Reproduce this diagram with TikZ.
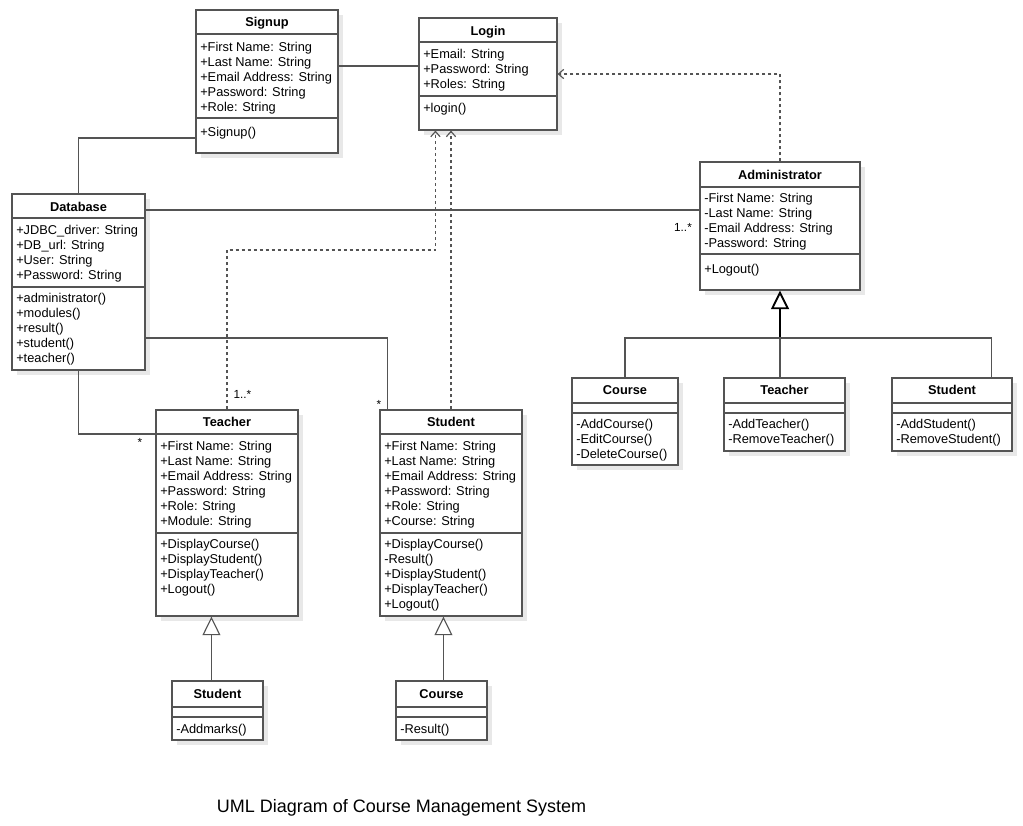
\documentclass[tikz,border=0pt]{standalone}
\usepackage{fontspec}
\setmainfont{Liberation Sans}
\usepackage{tikz}
\usetikzlibrary{arrows.meta, positioning, fit, calc}
\definecolor{umlline}{gray}{0.33}
\definecolor{umlshadow}{gray}{0.91}
\tikzset{
  classbox/.style={draw=umlline, line width=0.85pt, fill=white, inner sep=0pt,
    preaction={draw=none, fill=umlshadow, transform canvas={shift={(4pt,-4pt)}}}},
  classtitle/.style={anchor=base, inner sep=0pt, font=\fontsize{9.6}{11.25}\selectfont\bfseries},
  members/.style={anchor=north west, align=left, inner sep=0pt, font=\fontsize{9.6}{11.25}\selectfont,
    execute at begin node=\strut},
  sepline/.style={draw=umlline, line width=0.85pt},
  assoc/.style={draw=umlline, line width=0.85pt},
  depend/.style={draw=umlline, line width=0.85pt, dash pattern=on 2.25pt off 2.25pt, -{Straight Barb[length=4pt, width=7pt]}},
  inherit/.style={draw=umlline, line width=0.85pt, -{Triangle[open, length=14pt, width=13.5pt, fill=white]}},
  mult/.style={anchor=base, inner sep=0pt, font=\fontsize{8.8}{10}\selectfont},
}
\begin{document}
\begin{tikzpicture}[x=0.75pt, y=-0.75pt]
\fill[white] (0,0) rectangle (1023,825);
\useasboundingbox (0,0) rectangle (1023,825);

% Signup
\node[classbox, fit={(196,10) (338,153)}] (signup) {};
\node[classtitle] at (267,26.5) {Signup};
\draw[sepline] (signup.west |- 0,34) -- (signup.east |- 0,34);
\node[members] at (200,41.5) {+First Name: String\\+Last Name: String\\+Email Address: String\\+Password: String\\+Role: String};
\draw[sepline] (signup.west |- 0,118) -- (signup.east |- 0,118);
\node[members] at (200,125.5) {+Signup()};

% Login
\node[classbox, fit={(419,18) (557,130)}] (login) {};
\node[classtitle] at (488,35.5) {Login};
\draw[sepline] (login.west |- 0,42) -- (login.east |- 0,42);
\node[members] at (423,48.5) {+Email: String\\+Password: String\\+Roles: String};
\draw[sepline] (login.west |- 0,96) -- (login.east |- 0,96);
\node[members] at (423,101.5) {+login()};

% Database
\node[classbox, fit={(12,194) (145,370)}] (database) {};
\node[classtitle] at (78.5,211.5) {Database};
\draw[sepline] (database.west |- 0,218) -- (database.east |- 0,218);
\node[members] at (16,224.5) {+JDBC\_driver: String\\+DB\_url: String\\+User: String\\+Password: String};
\draw[sepline] (database.west |- 0,287) -- (database.east |- 0,287);
\node[members] at (16,292.5) {+administrator()\\+modules()\\+result()\\+student()\\+teacher()};

% Administrator
\node[classbox, fit={(700,162) (860,290)}] (admin) {};
\node[classtitle] at (780,179.5) {Administrator};
\draw[sepline] (admin.west |- 0,187) -- (admin.east |- 0,187);
\node[members] at (704,192.5) {-First Name: String\\-Last Name: String\\-Email Address: String\\-Password: String};
\draw[sepline] (admin.west |- 0,254) -- (admin.east |- 0,254);
\node[members] at (704,262.5) {+Logout()};

% Administrator: Course
\node[classbox, fit={(572,378) (678,465)}] (admincourse) {};
\node[classtitle] at (625,394.5) {Course};
\draw[sepline] (admincourse.west |- 0,403) -- (admincourse.east |- 0,403);
\draw[sepline] (admincourse.west |- 0,413) -- (admincourse.east |- 0,413);
\node[members] at (576,418.5) {-AddCourse()\\-EditCourse()\\-DeleteCourse()};

% Administrator: Teacher
\node[classbox, fit={(724,378) (845,451)}] (adminteacher) {};
\node[classtitle] at (784.5,394.5) {Teacher};
\draw[sepline] (adminteacher.west |- 0,403) -- (adminteacher.east |- 0,403);
\draw[sepline] (adminteacher.west |- 0,413) -- (adminteacher.east |- 0,413);
\node[members] at (728,418.5) {-AddTeacher()\\-RemoveTeacher()};

% Administrator: Student
\node[classbox, fit={(892,378) (1012,451)}] (adminstudent) {};
\node[classtitle] at (952,394.5) {Student};
\draw[sepline] (adminstudent.west |- 0,403) -- (adminstudent.east |- 0,403);
\draw[sepline] (adminstudent.west |- 0,413) -- (adminstudent.east |- 0,413);
\node[members] at (896,418.5) {-AddStudent()\\-RemoveStudent()};

% Teacher
\node[classbox, fit={(156,410) (298,616)}] (teacher) {};
\node[classtitle] at (227,426.5) {Teacher};
\draw[sepline] (teacher.west |- 0,434) -- (teacher.east |- 0,434);
\node[members] at (160,440.5) {+First Name: String\\+Last Name: String\\+Email Address: String\\+Password: String\\+Role: String\\+Module: String};
\draw[sepline] (teacher.west |- 0,533) -- (teacher.east |- 0,533);
\node[members] at (160,538.5) {+DisplayCourse()\\+DisplayStudent()\\+DisplayTeacher()\\+Logout()};

% Student
\node[classbox, fit={(380,410) (522,616)}] (student) {};
\node[classtitle] at (451,426.5) {Student};
\draw[sepline] (student.west |- 0,434) -- (student.east |- 0,434);
\node[members] at (384,440.5) {+First Name: String\\+Last Name: String\\+Email Address: String\\+Password: String\\+Role: String\\+Course: String};
\draw[sepline] (student.west |- 0,533) -- (student.east |- 0,533);
\node[members] at (384,538.5) {+DisplayCourse()\\-Result()\\+DisplayStudent()\\+DisplayTeacher()\\+Logout()};

% Teacher: Student
\node[classbox, fit={(172,681) (263,740)}] (markstudent) {};
\node[classtitle] at (217.5,698.5) {Student};
\draw[sepline] (markstudent.west |- 0,707) -- (markstudent.east |- 0,707);
\draw[sepline] (markstudent.west |- 0,717) -- (markstudent.east |- 0,717);
\node[members] at (176,722.5) {-Addmarks()};

% Student: Course
\node[classbox, fit={(396,681) (487,740)}] (resultcourse) {};
\node[classtitle] at (441.5,698.5) {Course};
\draw[sepline] (resultcourse.west |- 0,707) -- (resultcourse.east |- 0,707);
\draw[sepline] (resultcourse.west |- 0,717) -- (resultcourse.east |- 0,717);
\node[members] at (400,722.5) {-Result()};

% associations
\draw[assoc] (signup.east |- 0,66) -- (login.west |- 0,66);
\draw[assoc] (signup.west |- 0,138) -| (database.north);
\draw[assoc] (database.east |- 0,210) -- (admin.west |- 0,210);
\draw[assoc] (database.south) |- (teacher.west |- 0,434);
\draw[assoc] (database.east |- 0,338) -| ([xshift=6pt]student.north west);
\node[mult] (m1) at (683,231.6) {1..*};
\node[mult] (m2) at (242.5,398.6) {1..*};
\node[mult] (m3) at (140,446) {*};
\node[mult] (m4) at (379,408) {*};

% dependencies
\draw[depend] (teacher.north) -- (teacher.north |- 0,250) -| ([xshift=12.75pt]login.south west);
\draw[depend] (student.north) -- (student.north |- login.south);
\draw[depend] (admin.north) |- (login.east);

% generalizations
\coordinate (gen) at (admin.south |- 0,338);
\draw[inherit, line width=1.4pt, draw=black] (gen) -- (admin.south);
\draw[assoc] (admincourse.north) |- (gen) -| ([xshift=-15.75pt]adminstudent.north east);
\draw[assoc] (gen |- adminteacher.north) -- (gen);
\draw[inherit] ([xshift=30pt]markstudent.north west) -- ([xshift=30pt]markstudent.north west |- teacher.south);
\draw[inherit] ([xshift=36pt]resultcourse.north west) -- ([xshift=36pt]resultcourse.north west |- student.south);

\node[anchor=base, inner sep=0pt, font=\fontsize{13.5}{16}\selectfont] (caption) at (401.5,812.5) {UML Diagram of Course Management System};
\end{tikzpicture}
\end{document}
